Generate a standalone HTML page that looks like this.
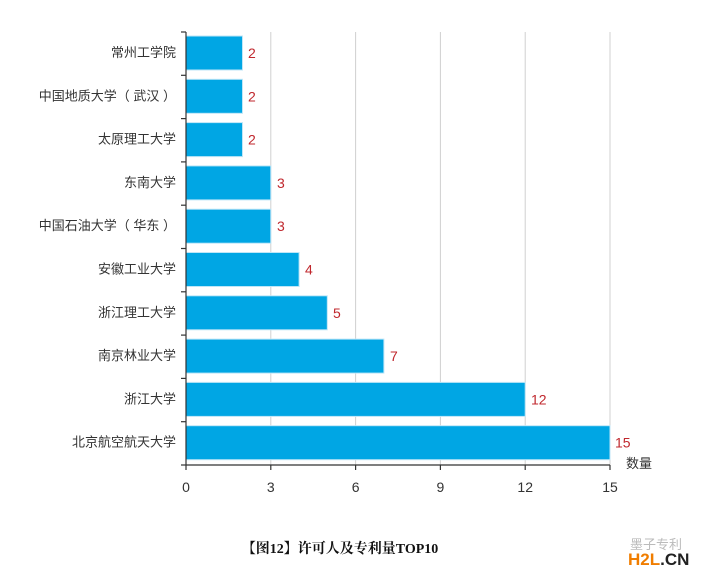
<!DOCTYPE html>
<html><head><meta charset="utf-8"><style>
body{margin:0;background:#fff;}
svg{display:block;font-family:"Liberation Sans","Noto Sans CJK SC",sans-serif;}
</style></head><body>
<svg width="720" height="578" viewBox="0 0 720 578">
<g stroke="#d0d0d0" stroke-width="1">
<line x1="270.8" y1="32" x2="270.8" y2="465"/>
<line x1="355.6" y1="32" x2="355.6" y2="465"/>
<line x1="440.4" y1="32" x2="440.4" y2="465"/>
<line x1="525.2" y1="32" x2="525.2" y2="465"/>
<line x1="610" y1="32" x2="610" y2="465"/>
</g>
<g fill="#00a6e4" stroke="#bfe6f7" stroke-width="1">
<rect x="186" y="36" width="56.5" height="34"/>
<rect x="186" y="79.3" width="56.5" height="34"/>
<rect x="186" y="122.6" width="56.5" height="34"/>
<rect x="186" y="165.9" width="84.8" height="34"/>
<rect x="186" y="209.2" width="84.8" height="34"/>
<rect x="186" y="252.5" width="113.1" height="34"/>
<rect x="186" y="295.8" width="141.3" height="34"/>
<rect x="186" y="339.1" width="197.9" height="34"/>
<rect x="186" y="382.4" width="339.2" height="34"/>
<rect x="186" y="425.7" width="424" height="34"/>
</g>
<g stroke="#333" stroke-width="1.2">
<line x1="186" y1="32" x2="186" y2="465"/>
<line x1="186" y1="465" x2="610" y2="465"/>
<line x1="181" y1="32" x2="186" y2="32"/>
<line x1="181" y1="75.3" x2="186" y2="75.3"/>
<line x1="181" y1="118.6" x2="186" y2="118.6"/>
<line x1="181" y1="161.9" x2="186" y2="161.9"/>
<line x1="181" y1="205.2" x2="186" y2="205.2"/>
<line x1="181" y1="248.5" x2="186" y2="248.5"/>
<line x1="181" y1="291.8" x2="186" y2="291.8"/>
<line x1="181" y1="335.1" x2="186" y2="335.1"/>
<line x1="181" y1="378.4" x2="186" y2="378.4"/>
<line x1="181" y1="421.7" x2="186" y2="421.7"/>
<line x1="181" y1="465" x2="186" y2="465"/>
<line x1="186" y1="465" x2="186" y2="470"/>
<line x1="270.8" y1="465" x2="270.8" y2="470"/>
<line x1="355.6" y1="465" x2="355.6" y2="470"/>
<line x1="440.4" y1="465" x2="440.4" y2="470"/>
<line x1="525.2" y1="465" x2="525.2" y2="470"/>
<line x1="610" y1="465" x2="610" y2="470"/>
</g>
<g font-size="13" fill="#333" text-anchor="end">
<text x="176" y="57">常州工学院</text>
<text x="176" y="100.3">中国地质大学（ 武汉 ）</text>
<text x="176" y="143.6">太原理工大学</text>
<text x="176" y="186.9">东南大学</text>
<text x="176" y="230.2">中国石油大学（ 华东 ）</text>
<text x="176" y="273.5">安徽工业大学</text>
<text x="176" y="316.8">浙江理工大学</text>
<text x="176" y="360.1">南京林业大学</text>
<text x="176" y="403.4">浙江大学</text>
<text x="176" y="446.7">北京航空航天大学</text>
</g>
<g font-size="14" fill="#c0272d">
<text x="248" y="58">2</text>
<text x="248" y="101.3">2</text>
<text x="248" y="144.6">2</text>
<text x="277" y="187.9">3</text>
<text x="277" y="231.2">3</text>
<text x="305" y="274.5">4</text>
<text x="333" y="317.8">5</text>
<text x="390" y="361.1">7</text>
<text x="531" y="404.4">12</text>
<text x="615" y="447.7">15</text>
</g>
<text x="626" y="468" font-size="13" fill="#333">数量</text>
<g font-size="14" fill="#333" text-anchor="middle">
<text x="186" y="492">0</text>
<text x="270.8" y="492">3</text>
<text x="355.6" y="492">6</text>
<text x="440.4" y="492">9</text>
<text x="525.2" y="492">12</text>
<text x="610" y="492">15</text>
</g>
<text x="340" y="553" font-size="14" font-weight="bold" fill="#111" text-anchor="middle" font-family="'Liberation Serif','Noto Serif CJK SC',serif">【图12】许可人及专利量TOP10</text>
<text x="630" y="549" font-size="13" fill="#bbb">墨子专利</text>
<text x="628" y="565" font-size="17" font-weight="bold" fill="#f07d00">H2L<tspan fill="#222">.CN</tspan></text>
</svg>
</body></html>
